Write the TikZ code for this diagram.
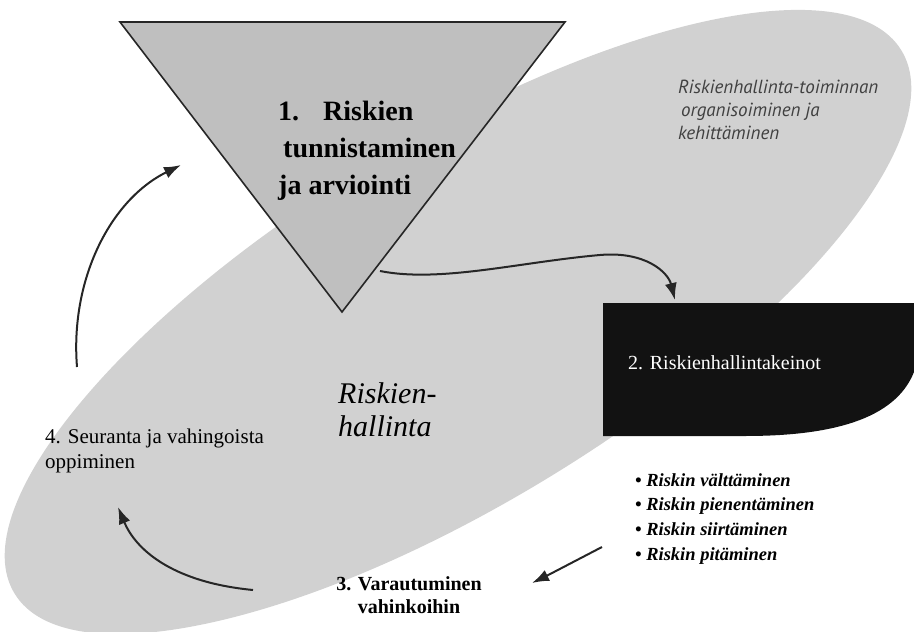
\documentclass[tikz,border=0pt]{standalone}
\usepackage{fontspec}
\setmainfont{Liberation Serif}
\newfontfamily\notefont{PT Sans}
\usetikzlibrary{arrows.meta}

\begin{document}
\begin{tikzpicture}%
        [x=1pt,
        y=-1pt,
        oval/.style={fill=black!18},
        wedge/.style={fill=black!25, draw=black!85, line width=1.6pt, line join=miter},
        darkbox/.style={fill=black!93},
        flow/.style={black!85, line width=2pt, -{Latex[length=17pt,width=12pt]}},
        label/.style={inner sep=0pt, align=left}]

    \useasboundingbox (0,0) rectangle (914,632);
    %% The background oval
    \fill[oval, rotate around={31.5:(458,322)}] (458,322) ellipse [x radius=520pt, y radius=180pt];
    %%
    %% Drawing the shapes
    %%
    \fill[wedge] (120,22) -- (565,22) -- (342,312) -- cycle;
    \fill[darkbox] (603,303) -- (914,303) -- (914,372) .. controls (895,420) and (830,436) .. (745,436) -- (603,436) -- cycle;
    %%
    %% Drawing the texts
    %%
    \node[label, anchor=north west, font=\fontsize{28}{37}\selectfont\bfseries] (tunnistus) at (278,101)
        {1.\hspace{24pt}Riskien\\\hspace{5pt}tunnistaminen\\ja arviointi};
    \node[label, anchor=north west, font=\fontsize{30}{33}\selectfont\itshape] (hallinta) at (338,382)
        {Riskien-\\hallinta};
    \node[label, anchor=north west, text=black!75, font=\notefont\fontsize{19}{23}\selectfont\itshape] (toiminta) at (678,80)
        {Riskienhallinta-toiminnan\\\hspace{3pt}organisoiminen ja\\kehittäminen};
    \node[label, anchor=base west, text=white, font=\fontsize{20}{24}\selectfont] (keinot) at (628,369)
        {2. Riskienhallintakeinot};
    \node[label, anchor=north west, font=\fontsize{18.5}{24.7}\selectfont\bfseries\itshape] (keinolista) at (635,473)
        {\textbullet\ Riskin välttäminen\\\textbullet\ Riskin pienentäminen\\\textbullet\ Riskin siirtäminen\\\textbullet\ Riskin pitäminen};
    \node[label, align=center, anchor=north, font=\fontsize{20}{23}\selectfont\bfseries] (varautuminen) at (409,576)
        {3. Varautuminen\\vahinkoihin};
    \node[label, anchor=north west, font=\fontsize{21}{25}\selectfont] (seuranta) at (45,429)
        {4. Seuranta ja vahingoista\\oppiminen};
    %%
    %% Arrow ends
    %%
    \coordinate (tri-out) at (380,271);
    \coordinate (keino-in) at (675,300);
    \coordinate (lista-out) at (602,547);
    \coordinate (vara-in) at (532,583);
    \coordinate (vara-out) at (253,590);
    \coordinate (seur-in) at (118,507);
    \coordinate (seur-out) at (77,367);
    \coordinate (tri-in) at (181,165);
    %%
    %% Drawing the cycle arrows
    %%
    \draw[flow] (tri-out) .. controls (440,283) and (520,262) .. (600,255) .. controls (645,251) and (668,272) .. (keino-in);
    \draw[flow] (lista-out) .. controls (575,562) .. (vara-in);
    \draw[flow] (vara-out) .. controls (170,582) and (135,548) .. (seur-in);
    \draw[flow] (seur-out) .. controls (70,280) and (110,200) .. (tri-in);
\end{tikzpicture}
\end{document}
